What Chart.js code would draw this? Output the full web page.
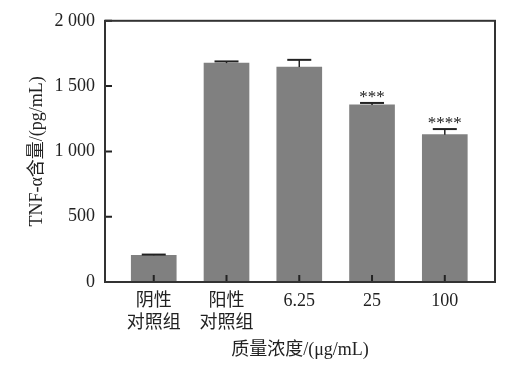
<!DOCTYPE html>
<html>
<head>
<meta charset="utf-8">
<script src="https://cdn.jsdelivr.net/npm/chart.js@4/dist/chart.umd.min.js"></script>
<style>
  body { margin: 0; background: #fff; }
  #wrap { width: 511px; height: 368px; }
</style>
</head>
<body>
<div id="wrap"><canvas id="grafico"></canvas></div>
<script>
// datos
const grupos = [["阴性", "对照组"], ["阳性", "对照组"], "6.25", "25", "100"];
const valores = [205, 1676, 1646, 1356, 1128];
const errores = [5, 13, 55, 15, 43];
const signos = ["", "", "", "***", "****"];
const ticksY = [0, 500, 1000, 1500, 2000];

const fuente = "'Liberation Serif', 'Noto Sans CJK SC', serif";
const oscuro = "#222";

// formato "2 000"
function conEspacio(v) {
  return String(v).replace(/\B(?=(\d{3})+$)/g, " ");
}

// barras de error, asteriscos, marcas hacia dentro y marco
const extras = {
  id: "extras",
  afterDatasetsDraw(chart) {
    const { ctx, chartArea: a, scales: { x, y } } = chart;
    const barras = chart.getDatasetMeta(0).data;
    ctx.save();
    ctx.strokeStyle = oscuro;
    ctx.fillStyle = oscuro;

    barras.forEach((b, i) => {
      const yTop = y.getPixelForValue(valores[i] + errores[i]);
      ctx.lineWidth = 1.5;
      ctx.beginPath();
      ctx.moveTo(b.x, b.y);
      ctx.lineTo(b.x, yTop);
      ctx.stroke();
      ctx.lineWidth = 2;
      ctx.beginPath();
      ctx.moveTo(b.x - 12, yTop);
      ctx.lineTo(b.x + 12, yTop);
      ctx.stroke();
      if (signos[i]) {
        ctx.font = "17px " + fuente;
        ctx.textAlign = "center";
        ctx.textBaseline = "alphabetic";
        ctx.fillText(signos[i], b.x, yTop - 1);
      }
    });

    ctx.lineWidth = 2;
    ctx.beginPath();
    ticksY.forEach((v) => {
      const py = y.getPixelForValue(v);
      ctx.moveTo(a.left, py);
      ctx.lineTo(a.left + 7, py);
    });
    grupos.forEach((g, i) => {
      const px = x.getPixelForValue(i);
      ctx.moveTo(px, a.bottom);
      ctx.lineTo(px, a.bottom - 7);
    });
    ctx.stroke();

    ctx.strokeStyle = "#333";
    ctx.lineWidth = 2;
    ctx.strokeRect(a.left, a.top, a.right - a.left, a.bottom - a.top);
    ctx.restore();
  }
};

new Chart(document.querySelector("#grafico"), {
  type: "bar",
  data: {
    datasets: [
      {
        data: valores.map((v, i) => ({ x: i, y: v })),
        backgroundColor: "#808080",
        borderWidth: 0,
        barThickness: 45,
      },
    ],
  },
  options: {
    responsive: true,
    maintainAspectRatio: false,
    animation: false,
    layout: { padding: { top: 20, right: 16, left: 0, bottom: 0 } },
    plugins: { legend: { display: false }, tooltip: { enabled: false } },
    scales: {
      x: {
        type: "linear",
        offset: false,
        min: -0.67,
        max: 4.69,
        afterBuildTicks: (s) => { s.ticks = grupos.map((g, i) => ({ value: i })); },
        afterFit: (s) => { s.height = 86; },
        grid: { display: false, drawTicks: false },
        border: { display: false },
        ticks: {
          padding: 8,
          color: oscuro,
          font: { family: fuente, size: 18, lineHeight: 1.25 },
          maxRotation: 0,
          autoSkip: false,
          callback: (v) => grupos[v] ?? "",
        },
        title: {
          display: true,
          text: "质量浓度/(μg/mL)",
          color: oscuro,
          font: { family: fuente, size: 18 },
          padding: { top: 0, bottom: 7 },
        },
      },
      y: {
        min: 0,
        max: 2000,
        afterBuildTicks: (s) => { s.ticks = ticksY.map((v) => ({ value: v })); },
        afterFit: (s) => { s.width = 105; },
        grid: { display: false, drawTicks: false },
        border: { display: false },
        ticks: {
          padding: 10,
          color: oscuro,
          font: { family: fuente, size: 18 },
          callback: (v) => conEspacio(v),
        },
        title: {
          display: true,
          text: "TNF-α含量/(pg/mL)",
          color: oscuro,
          font: { family: fuente, size: 18 },
          padding: { top: 26, bottom: 0 },
        },
      },
    },
  },
  plugins: [extras],
});
</script>
</body>
</html>
